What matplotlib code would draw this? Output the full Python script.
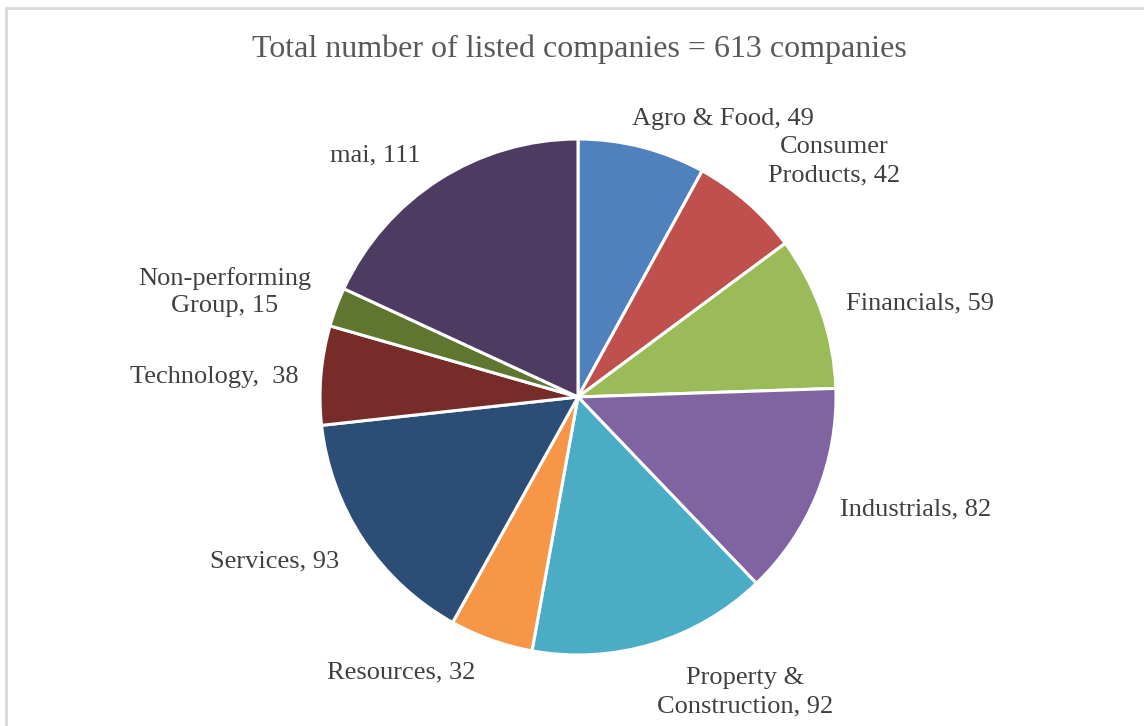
import matplotlib.pyplot as plt
from matplotlib.patches import Rectangle

# listed companies by sector
sectors = ['Agro & Food', 'Consumer\nProducts', 'Financials', 'Industrials',
           'Property &\nConstruction', 'Resources', 'Services', 'Technology',
           'Non-performing\nGroup', 'mai']
counts = [49, 42, 59, 82, 92, 32, 93, 38, 15, 111]
colors = ['#4F81BD', '#C0504D', '#9BBB59', '#8064A2', '#4BACC6',
          '#F79646', '#2C4D75', '#772C2A', '#5F7530', '#4D3B62']
title = 'Total number of listed companies = %d companies' % sum(counts)

# label centres in pixels (from top-left)
label_pos = [(723, 119), (834, 161), (920, 303), (916, 509), (745, 692),
             (401, 672), (275, 561), (214, 377), (225, 292), (375, 155)]
label_fmt = ['{}, {}', '{}, {}', '{}, {}', '{}, {}', '{}, {}',
             '{}, {}', '{}, {}', '{},  {}', '{}, {}', '{}, {}']

W, H = 1144, 726
plt.rcParams['font.family'] = ['Liberation Serif', 'DejaVu Serif']
fig = plt.figure(figsize=(W / 100, H / 100), dpi=100)

cx, cy, r = 578, 397, 258
ax = fig.add_axes([(cx - r) / W, (H - cy - r) / H, 2 * r / W, 2 * r / H])
ax.pie(counts, colors=colors, startangle=90, counterclock=False, radius=1,
       wedgeprops=dict(edgecolor='white', linewidth=2.2))
ax.set_xlim(-1, 1)
ax.set_ylim(-1, 1)
ax.set_aspect('equal')
ax.axis('off')

fig.text(579 / W, 1 - 49 / H, title, ha='center', va='center',
         fontsize=23, color='#595959')

for name, n, fmt, (px, py) in zip(sectors, counts, label_fmt, label_pos):
    fig.text(px / W, 1 - py / H, fmt.format(name, n), ha='center', va='center',
             fontsize=19, color='#404040', linespacing=1.35)

# chart area border
fig.patches.append(Rectangle((6 / W, -0.05), 1.05, 1 - 8 / H + 0.05,
                             transform=fig.transFigure, fill=False,
                             edgecolor='#D9D9D9', linewidth=2))

fig.savefig('out.png', dpi=100)
